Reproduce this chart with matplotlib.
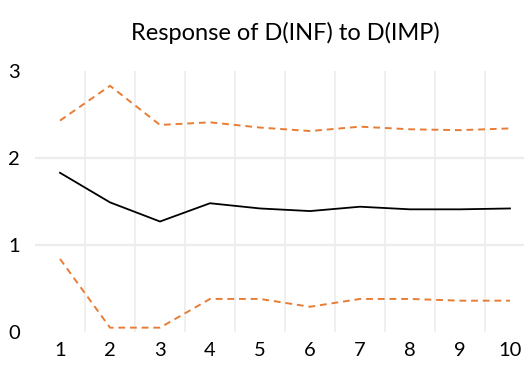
import matplotlib
matplotlib.use("Agg")
import matplotlib.pyplot as plt

periods = [1, 2, 3, 4, 5, 6, 7, 8, 9, 10]
response = [1.83, 1.49, 1.27, 1.48, 1.42, 1.39, 1.44, 1.41, 1.41, 1.42]
upper = [2.43, 2.83, 2.38, 2.41, 2.35, 2.31, 2.36, 2.33, 2.32, 2.34]
lower = [0.84, 0.05, 0.05, 0.38, 0.38, 0.29, 0.38, 0.38, 0.36, 0.36]
title = "Response of D(INF) to D(IMP)"

plt.rcParams['font.family'] = ['Lato', 'DejaVu Sans']

W, H = 524, 365
fig = plt.figure(figsize=(W / 100, H / 100), dpi=100)
ax = fig.add_axes([35 / W, (H - 332) / H, 500 / W, 261 / H])

ax.set_xlim(0.5, 10.5)
ax.set_ylim(0, 3)

grid_c = '#ececec'
for x in [p + 0.5 for p in periods[:-1]] + [10.5]:
    ax.axvline(x, color=grid_c, lw=1.2, zorder=0)
for y in [1, 2]:
    ax.axhline(y, color=grid_c, lw=1.6, zorder=0)

orange = '#E77D35'
ax.plot(periods, upper, color=orange, lw=1.4, ls=(0, (3.5, 2.5)))
ax.plot(periods, lower, color=orange, lw=1.4, ls=(0, (3.5, 2.5)))
ax.plot(periods, response, color='black', lw=1.3)

ax.set_xticks(periods)
ax.set_xticklabels([str(p) for p in periods])
ax.set_yticks([0, 1, 2, 3])
ax.set_yticklabels(['0', '1', '2', '3'])
ax.tick_params(length=0, labelsize=14.5, colors='black')
ax.tick_params(axis='x', pad=7)
ax.tick_params(axis='y', pad=11)
for s in ax.spines.values():
    s.set_visible(False)

fig.text(285 / W, 1 - 33 / H, title, ha='center', va='center', fontsize=17)

fig.savefig('out.png', dpi=100)
